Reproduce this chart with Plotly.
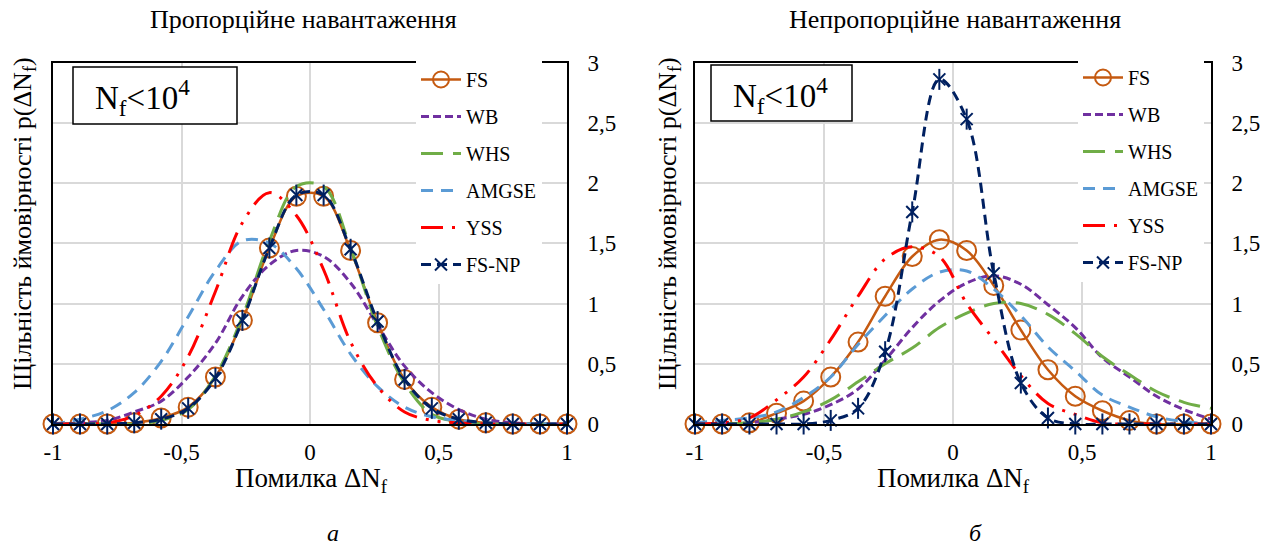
import plotly.graph_objects as go

# ---------------- data ----------------
X = [-1, -0.895, -0.789, -0.684, -0.579, -0.474, -0.368, -0.263, -0.158, -0.053,
     0.053, 0.158, 0.263, 0.368, 0.474, 0.579, 0.684, 0.789, 0.895, 1]

# Proportional loading (panel a)
P_FS = [0, 0, 0, 0.01, 0.05, 0.14, 0.39, 0.86, 1.46, 1.89, 1.89, 1.44, 0.84, 0.37, 0.14, 0.04, 0.01, 0, 0, 0]
P_WB = [0, 0.01, 0.03, 0.10, 0.19, 0.39, 0.67, 1.06, 1.32, 1.44, 1.39, 1.17, 0.82, 0.48, 0.26, 0.12, 0.04, 0.01, 0, 0]
P_WHS = [0, 0, 0, 0, 0.03, 0.12, 0.40, 0.89, 1.52, 1.97, 1.97, 1.46, 0.81, 0.34, 0.08, 0.02, 0, 0, 0, 0]
P_AMGSE = [0, 0.04, 0.11, 0.26, 0.52, 0.89, 1.27, 1.52, 1.50, 1.29, 0.95, 0.58, 0.31, 0.14, 0.06, 0.03, 0.01, 0, 0, 0]
P_YSS = [0, 0, 0.01, 0.07, 0.23, 0.56, 1.10, 1.67, 1.92, 1.73, 1.28, 0.68, 0.31, 0.10, 0.03, 0.01, 0, 0, 0, 0]
P_FSNP = [0, 0, 0, 0.01, 0.04, 0.13, 0.38, 0.86, 1.46, 1.90, 1.90, 1.45, 0.85, 0.37, 0.13, 0.04, 0.01, 0, 0, 0]

# Non-proportional loading (panel b)
N_FS = [0, 0, 0.01, 0.09, 0.19, 0.39, 0.68, 1.06, 1.39, 1.53, 1.44, 1.15, 0.78, 0.45, 0.23, 0.11, 0.03, 0, 0, 0]
N_WB = [0, 0, 0.01, 0.04, 0.08, 0.16, 0.29, 0.53, 0.80, 1.02, 1.17, 1.23, 1.16, 0.99, 0.80, 0.55, 0.39, 0.23, 0.12, 0.04]
N_WHS = [0, 0, 0.01, 0.04, 0.10, 0.20, 0.35, 0.50, 0.63, 0.80, 0.92, 1.00, 1.00, 0.91, 0.75, 0.56, 0.41, 0.27, 0.18, 0.13]
N_AMGSE = [0.01, 0.03, 0.05, 0.10, 0.22, 0.39, 0.66, 0.90, 1.12, 1.26, 1.27, 1.12, 0.90, 0.64, 0.44, 0.24, 0.14, 0.06, 0.02, 0]
N_YSS = [0, 0.01, 0.05, 0.20, 0.39, 0.70, 1.06, 1.37, 1.47, 1.39, 1.00, 0.70, 0.40, 0.17, 0.08, 0.01, 0, 0, 0, 0]
N_FSNP = [0, 0, 0, 0, 0, 0.03, 0.13, 0.60, 1.76, 2.86, 2.53, 1.25, 0.34, 0.05, 0, 0, 0, 0, 0, 0]

X_TICKS = [-1, -0.5, 0, 0.5, 1]
X_TICKTEXT = ["-1", "-0,5", "0", "0,5", "1"]
Y_TICKS = [0, 0.5, 1, 1.5, 2, 2.5, 3]
Y_TICKTEXT = ["0", "0,5", "1", "1,5", "2", "2,5", "3"]

TITLES = ["Пропорційне навантаження", "Непропорційне навантаження"]
SERIES = ["FS", "WB", "WHS", "AMGSE", "YSS", "FS-NP"]

# ---------------- styling ----------------
FONT = "Liberation Serif"
C_FS = "#C55A11"
C_WB = "#7030A0"
C_WHS = "#70AD47"
C_AM = "#5B9BD5"
C_YSS = "#FF0000"
C_NP = "#002060"

fig = go.Figure()


def add_panel(xa, ya, legend, data):
    fs, wb, whs, am, yss, np_ = data
    common = dict(x=X, xaxis=xa, yaxis=ya, legend=legend, cliponaxis=False)
    fig.add_trace(go.Scatter(y=fs, name=SERIES[0], mode="lines+markers", legendgroup=legend + "1",
                             line=dict(color=C_FS, width=2.5, shape="spline", smoothing=1),
                             marker=dict(symbol="circle-open", size=19, color=C_FS, line=dict(width=2, color=C_FS)),
                             **common))
    fig.add_trace(go.Scatter(y=wb, name=SERIES[1], mode="lines", legendgroup=legend + "2",
                             line=dict(color=C_WB, width=3, dash="8px,4px", shape="spline", smoothing=1), **common))
    fig.add_trace(go.Scatter(y=whs, name=SERIES[2], mode="lines", legendgroup=legend + "3",
                             line=dict(color=C_WHS, width=3, dash="22px,10px", shape="spline", smoothing=1), **common))
    fig.add_trace(go.Scatter(y=am, name=SERIES[3], mode="lines", legendgroup=legend + "4",
                             line=dict(color=C_AM, width=3, dash="12px,8px", shape="spline", smoothing=1), **common))
    fig.add_trace(go.Scatter(y=yss, name=SERIES[4], mode="lines", legendgroup=legend + "5",
                             line=dict(color=C_YSS, width=3, dash="22px,9px,3px,9px,3px,9px", shape="spline", smoothing=1),
                             **common))
    fig.add_trace(go.Scatter(y=np_, name=SERIES[5], mode="lines+markers", legendgroup=legend + "6",
                             line=dict(color=C_NP, width=3, dash="10px,6px", shape="spline", smoothing=1),
                             marker=dict(symbol="x-thin-open", size=12, color=C_NP, line=dict(width=2, color=C_NP)),
                             **common))
    fig.add_trace(go.Scatter(y=np_, name=SERIES[5], mode="markers", legendgroup=legend + "6", showlegend=False,
                             marker=dict(symbol="line-ns-open", size=15, color=C_NP, line=dict(width=2, color=C_NP)),
                             **common))


add_panel("x", "y", "legend", [P_FS, P_WB, P_WHS, P_AMGSE, P_YSS, P_FSNP])
add_panel("x2", "y2", "legend2", [N_FS, N_WB, N_WHS, N_AMGSE, N_YSS, N_FSNP])

W, H = 1268, 550
px = lambda v: v / W
py = lambda v: 1 - v / H

xdom = [[px(53), px(567)], [px(695), px(1211)]]
ydom = [py(424), py(62.5)]

axis_common = dict(showline=True, mirror=True, linecolor="black", linewidth=2, automargin=False,
                   showgrid=True, gridcolor="#D9D9D9", gridwidth=1.5, zeroline=False,
                   tickfont=dict(family=FONT, size=23, color="black"), ticks="")

layout = dict(width=W, height=H, margin=dict(l=0, r=0, t=0, b=0, autoexpand=False),
              paper_bgcolor="white", plot_bgcolor="white", showlegend=True)
for i, (xn, yn) in enumerate([("xaxis", "yaxis"), ("xaxis2", "yaxis2")]):
    ya_name = "y" if i == 0 else "y2"
    xa_name = "x" if i == 0 else "x2"
    layout[xn] = dict(domain=xdom[i], range=[-1, 1], tickvals=X_TICKS, ticktext=X_TICKTEXT,
                      anchor=ya_name, ticklabelstandoff=6, **axis_common)
    layout[yn] = dict(domain=ydom, range=[0, 3], tickvals=Y_TICKS, ticktext=Y_TICKTEXT,
                      anchor=xa_name, side="right", ticklabelstandoff=14, **axis_common)

leg_common = dict(font=dict(family=FONT, size=20, color="black"), bgcolor="white", borderwidth=0,
                  tracegroupgap=8, xanchor="left", yanchor="top", itemwidth=40)
layout["legend"] = dict(x=px(416), y=py(60), **leg_common)
layout["legend2"] = dict(x=px(1078), y=py(58), **leg_common)
fig.update_layout(**layout)

ann = []
centers = [303, 955]
axcenters = [311, 953]
for i in range(2):
    ann.append(dict(text=TITLES[i], x=px(centers[i]), y=py(19), xref="paper", yref="paper", showarrow=False,
                    font=dict(family=FONT, size=26, color="black"), xanchor="center", yanchor="middle"))
    ann.append(dict(text="Помилка ΔN<sub>f</sub>", x=px(axcenters[i]), y=py(480), xref="paper", yref="paper",
                    showarrow=False, font=dict(family=FONT, size=27, color="black"),
                    xanchor="center", yanchor="middle"))
    ann.append(dict(text="Щільність ймовірності p(ΔN<sub>f</sub>)", x=px(24 + 645 * i), y=py(224),
                    xref="paper", yref="paper", showarrow=False, textangle=-90,
                    font=dict(family=FONT, size=26, color="black"), xanchor="center", yanchor="middle"))
    ann.append(dict(text=["а", "б"][i], x=px([333, 975][i]), y=py(533), xref="paper", yref="paper",
                    showarrow=False, font=dict(family=FONT, size=24, color="black", style="italic"),
                    xanchor="center", yanchor="middle"))

# Nf<10^4 boxes
boxes = [(73, 67, 237, 124), (711, 65, 852, 121)]
text_cx = [142, 781]
shapes = []
for i, (x0, y0, x1, y1) in enumerate(boxes):
    shapes.append(dict(type="rect", xref="paper", yref="paper", x0=px(x0), x1=px(x1), y0=py(y1), y1=py(y0),
                       line=dict(color="black", width=1.5), fillcolor="white", layer="above"))
    ann.append(dict(text="N<sub>f</sub>&lt;10<sup>4</sup>", x=px(text_cx[i]), y=py((y0 + y1) / 2 + 2),
                    xref="paper", yref="paper", showarrow=False,
                    font=dict(family=FONT, size=33, color="black"), xanchor="center", yanchor="middle"))
fig.update_layout(annotations=ann, shapes=shapes)

fig.write_html("out.html", config={"displayModeBar": False},
               post_script="document.body.style.margin='0';document.body.style.overflow='hidden';")
